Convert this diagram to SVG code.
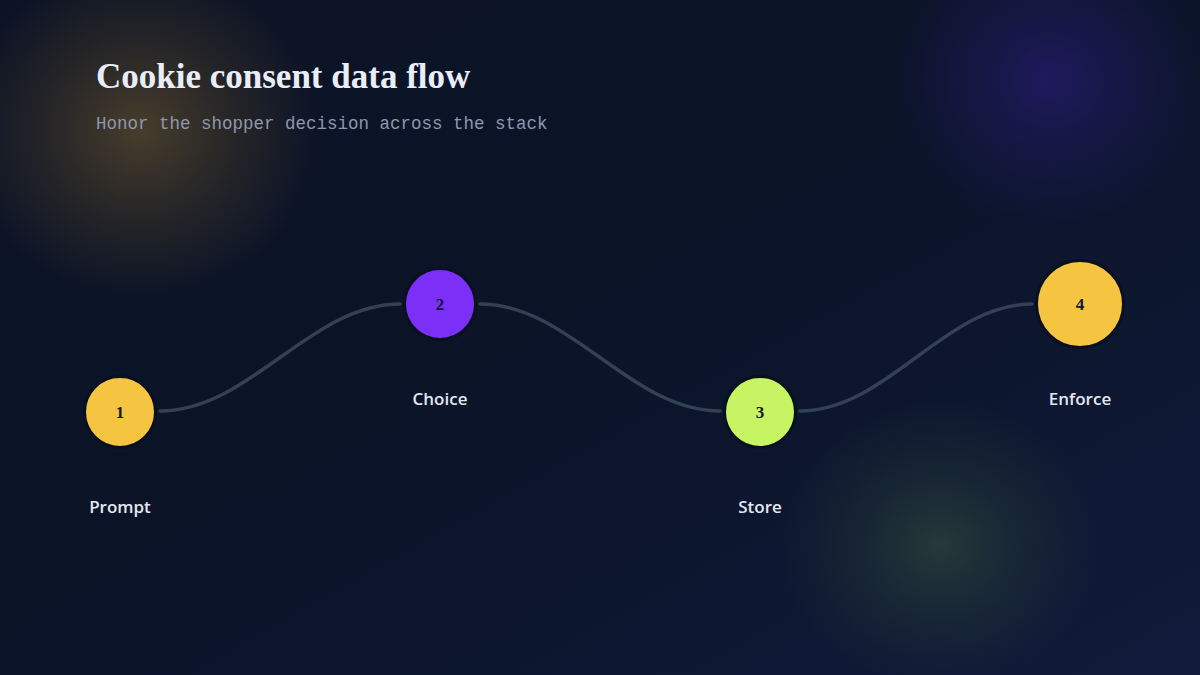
<svg xmlns="http://www.w3.org/2000/svg" width="1200" height="675" viewBox="0 0 1200 675">
<defs>
<linearGradient id="bg" x1="0" y1="0" x2="1" y2="1">
<stop offset="0" stop-color="#0c1325"/>
<stop offset="0.5" stop-color="#0b1428"/>
<stop offset="1" stop-color="#101a3a"/>
</linearGradient>
<radialGradient id="gY" cx="0.5" cy="0.5" r="0.5">
<stop offset="0" stop-color="#e3a93a" stop-opacity="0.28"/>
<stop offset="0.6" stop-color="#c0902f" stop-opacity="0.12"/>
<stop offset="1" stop-color="#c0902f" stop-opacity="0"/>
</radialGradient>
<radialGradient id="gP" cx="0.5" cy="0.5" r="0.5">
<stop offset="0" stop-color="#3a22a8" stop-opacity="0.42"/>
<stop offset="0.6" stop-color="#2d1f8a" stop-opacity="0.2"/>
<stop offset="1" stop-color="#2d1f8a" stop-opacity="0"/>
</radialGradient>
<radialGradient id="gG" cx="0.5" cy="0.5" r="0.5">
<stop offset="0" stop-color="#3f5a3e" stop-opacity="0.5"/>
<stop offset="0.6" stop-color="#2f4a3a" stop-opacity="0.22"/>
<stop offset="1" stop-color="#2f4a3a" stop-opacity="0"/>
</radialGradient>
<style>
.title{font-family:"Liberation Serif","Times New Roman",serif;font-weight:700;font-size:35px;fill:#e9edf8}
.sub{font-family:"Liberation Mono","Courier New",monospace;font-size:17.5px;fill:#8e97ae}
.conn{fill:none;stroke:#334155;stroke-width:3.5;stroke-linecap:round}
.node{stroke:#0b1020;stroke-width:3}
.num{font-family:"Liberation Serif","Times New Roman",serif;font-weight:700;font-size:17px;fill:#111827;text-anchor:middle}
.lbl{font-family:"Open Sans","Noto Sans",sans-serif;font-weight:600;font-size:17px;fill:#e2e8f0;text-anchor:middle}
</style>
</defs>
<rect width="1200" height="675" fill="url(#bg)"/>
<rect x="-40" y="-40" width="360" height="340" fill="url(#gY)"/>
<rect x="890" y="-70" width="320" height="300" fill="url(#gP)"/>
<rect x="780" y="400" width="320" height="290" fill="url(#gG)"/>
<text class="title" x="96" y="88">Cookie consent data flow</text>
<text class="sub" x="96" y="129">Honor the shopper decision across the stack</text>
<g id="connectors">
<path class="conn" d="M160 411 C 250 411, 310 304, 400 304"/>
<path class="conn" d="M480 304 C 570 304, 630 411, 720 411"/>
<path class="conn" d="M800 411 C 887 411, 945 304, 1032 304"/>
</g>
<g id="node1">
<circle class="node" cx="120" cy="412" r="35.5" fill="#f5c542"/>
<text class="num" x="120" y="418">1</text>
<text class="lbl" x="120" y="513">Prompt</text>
</g>
<g id="node2">
<circle class="node" cx="440" cy="304" r="35.5" fill="#7b2ff7"/>
<text class="num" x="440" y="310">2</text>
<text class="lbl" x="440" y="405">Choice</text>
</g>
<g id="node3">
<circle class="node" cx="760" cy="412" r="35.5" fill="#c6f462"/>
<text class="num" x="760" y="418">3</text>
<text class="lbl" x="760" y="513">Store</text>
</g>
<g id="node4">
<circle class="node" cx="1080" cy="304" r="43.5" fill="#f5c542"/>
<text class="num" x="1080" y="310">4</text>
<text class="lbl" x="1080" y="405">Enforce</text>
</g>
</svg>
